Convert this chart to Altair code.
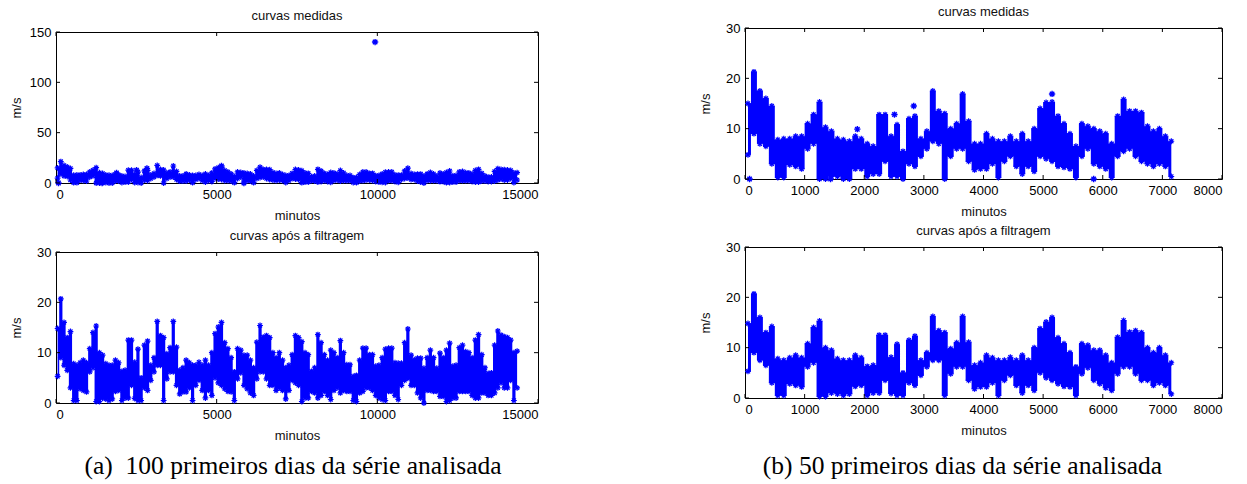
import altair as alt
import pandas as pd

BLUE = "#0000ff"
AXIS_FONT = "Liberation Sans"
CAPTION_FONT = "Liberation Serif"
BUCKET = 100  # minutes summarised by each envelope point

# ---- wind speed envelopes (m/s), one value per 100-minute bucket ----
# first 50 days (0-7200 min), filtered series
filt_hi_a = [14.8, 20.7, 16.0, 13.0, 14.2, 7.8, 7.5, 8.0, 8.5, 8.0,
             10.8, 14.0, 15.3, 10.0, 9.5, 7.8, 7.5, 7.5, 8.5, 8.0,
             6.3, 6.5, 12.5, 12.5, 8.1, 10.7, 5.0, 11.5, 12.3, 7.5,
             9.0, 16.2, 13.4, 13.0, 9.8, 11.0, 16.2, 11.1, 6.5, 7.0,
             8.5, 8.0, 7.5, 7.5, 8.1, 7.5, 8.5, 7.5, 10.0, 13.8,
             15.1, 16.0, 12.0, 10.8, 9.0, 6.2, 10.8, 10.5, 9.5, 9.5,
             8.5, 7.0, 12.1, 15.4, 13.1, 13.4, 13.0, 10.0, 9.0, 10.0,
             8.5, 7.0]
filt_lo_a = [5.3, 9.0, 7.5, 6.5, 3.0, 0.5, 0.5, 2.8, 2.5, 2.2,
             6.2, 7.0, 0.3, 0.3, 1.0, 0.8, 0.5, 0.8, 2.3, 2.5,
             0.5, 1.0, 1.0, 3.5, 0.9, 0.5, 0.5, 3.0, 2.5, 4.5,
             6.2, 7.5, 7.5, 0.5, 4.8, 6.2, 6.2, 3.5, 1.8, 2.2,
             2.2, 3.0, 0.5, 3.5, 4.5, 2.5, 1.0, 2.5, 1.5, 5.0,
             4.0, 3.5, 2.8, 2.3, 2.2, 0.5, 4.8, 6.0, 3.5, 2.8,
             2.0, 1.5, 4.8, 6.2, 6.2, 4.8, 3.5, 3.5, 2.5, 3.0,
             2.5, 0.8]

# days 51-100 (7200-14400 min), filtered series
filt_hi_b = [7.5, 9.6, 13.4, 13.0, 12.2, 10.0, 9.6, 6.3, 7.0, 13.6,
             12.0, 9.6, 8.5, 10.5, 10.0, 9.0, 12.4, 10.0, 7.6, 7.6,
             5.3, 5.5, 8.5, 10.9, 10.9, 9.6, 9.6, 7.3, 7.5, 9.0,
             10.7, 10.9, 10.9, 8.0, 7.9, 7.9, 12.0, 14.7, 9.5, 8.6,
             8.9, 8.9, 6.9, 9.0, 10.5, 9.0, 6.9, 9.9, 9.0, 10.5,
             11.9, 7.3, 7.5, 11.0, 11.5, 10.2, 10.0, 9.0, 12.5, 13.6,
             9.6, 7.0, 5.9, 6.0, 11.5, 14.3, 13.5, 13.2, 13.0, 12.5,
             10.0, 10.3]
filt_lo_b = [2.5, 4.5, 4.0, 3.5, 0.3, 1.0, 1.0, 2.3, 2.0, 1.0,
             1.5, 2.3, 1.5, 0.7, 2.5, 3.0, 2.0, 2.5, 2.3, 2.3,
             0.5, 0.3, 2.0, 2.3, 3.0, 3.0, 2.5, 1.5, 1.0, 0.7,
             0.5, 2.3, 2.3, 1.5, 0.7, 3.5, 4.5, 4.9, 3.5, 3.5,
             2.0, 1.0, 0.0, 2.5, 2.5, 2.3, 2.3, 1.3, 1.3, 0.3,
             0.5, 1.0, 1.0, 2.3, 2.3, 2.3, 2.3, 1.5, 1.0, 1.0,
             2.0, 2.0, 1.5, 1.5, 2.0, 3.0, 4.0, 3.0, 3.0, 4.5,
             0.5, 3.0]

# first 50 days, measured (unfiltered) series
meas_hi_a = [15.0, 21.3, 17.5, 16.0, 14.5, 7.8, 8.0, 8.0, 8.5, 8.5,
             11.0, 12.8, 15.3, 10.3, 9.5, 8.0, 7.8, 7.5, 8.5, 8.0,
             7.0, 6.5, 12.8, 12.8, 8.5, 10.8, 5.5, 12.0, 12.5, 8.0,
             9.5, 17.5, 13.5, 13.0, 10.0, 11.0, 16.9, 11.5, 7.0, 7.0,
             9.0, 8.0, 7.5, 7.5, 8.5, 7.5, 9.0, 7.5, 10.0, 14.0,
             15.2, 15.3, 12.5, 11.0, 9.0, 6.5, 11.0, 10.5, 10.0, 9.5,
             9.0, 7.0, 12.5, 15.8, 13.5, 13.5, 13.2, 10.5, 9.5, 10.0,
             8.5, 7.5]
meas_lo_a = [4.8, 9.0, 7.0, 6.5, 3.0, 0.3, 0.3, 2.8, 2.5, 2.0,
             6.0, 7.0, 0.0, 0.0, 0.5, 0.5, 0.0, 0.0, 2.0, 2.0,
             0.5, 1.0, 1.0, 3.5, 0.5, 0.5, 0.0, 3.0, 2.5, 4.5,
             6.0, 7.5, 7.0, 0.0, 4.5, 6.0, 6.0, 3.5, 1.8, 2.0,
             2.0, 3.0, 0.3, 3.5, 4.5, 2.5, 1.0, 2.5, 1.5, 4.5,
             4.0, 3.5, 2.5, 2.3, 2.0, 0.3, 4.5, 6.0, 3.0, 2.5,
             2.0, 0.3, 4.5, 5.5, 6.0, 4.5, 3.5, 3.0, 2.5, 3.0,
             2.5, 0.5]

# isolated readings of the measured series (minute, m/s)
spike_t = [77, 1435, 1884, 2507, 2830, 5150, 5848]
spike_v = [0.0, 0.0, 9.9, 12.8, 14.5, 16.9, 0.0]
outlier_t = [9930]
outlier_v = [140.0]

# axis ticks
ticks_x_100d = [0, 5000, 10000, 15000]
ticks_x_50d = [0, 1000, 2000, 3000, 4000, 5000, 6000, 7000, 8000]
ticks_y_raw = [0, 50, 100, 150]
ticks_y = [0, 10, 20, 30]

# asterisk marker (unit square path)
STAR = "M-1,0L1,0M0,-1L0,1M-0.7,-0.7L0.7,0.7M-0.7,0.7L0.7,-0.7"


def panel(hi, lo, pts_t, pts_v, x_max, x_ticks, y_max, y_ticks, w, h,
          title, caption=None, caption_dx=0, caption_dy=64):
    n = len(hi)
    t = [BUCKET * i + BUCKET / 2 for i in range(n)]
    env = pd.DataFrame({"t": t, "hi": hi, "lo": lo})
    edge = pd.DataFrame({"t": t + t, "v": list(hi) + list(lo)})
    iso = pd.DataFrame({"t": pts_t, "v": pts_v})

    xs = alt.Scale(domain=[0, x_max], nice=False, zero=True)
    ys = alt.Scale(domain=[0, y_max], nice=False, zero=True)
    x_axis = alt.Axis(values=x_ticks, format="d", title="minutos", grid=False,
                      titleX=w / 2, titleY=32, titleAlign="center", titleBaseline="middle")
    y_axis = alt.Axis(values=y_ticks, format="d", title="m/s", grid=False,
                      titleX=-40, titleY=h / 2, titleAngle=270,
                      titleAlign="center", titleBaseline="middle")

    def X(field):
        return alt.X(field, scale=xs, axis=x_axis)

    def Y(field):
        return alt.Y(field, scale=ys, axis=y_axis)

    band = alt.Chart(env).mark_area(color=BLUE, opacity=1, interpolate="step").encode(
        x=X("t:Q"), y=Y("lo:Q"), y2="hi:Q")
    stars = alt.Chart(edge).mark_point(
        shape=STAR, filled=False, color=BLUE, size=34, strokeWidth=1.2, opacity=1
    ).encode(x=X("t:Q"), y=Y("v:Q"))

    layers = [band, stars]
    if pts_t:
        lone = alt.Chart(iso).mark_point(
            shape=STAR, filled=False, color=BLUE, size=40, strokeWidth=1.4, opacity=1
        ).encode(x=X("t:Q"), y=Y("v:Q"))
        layers.append(lone)

    xt = pd.DataFrame({"t": x_ticks})
    yt = pd.DataFrame({"v": y_ticks})
    tick_style = dict(color="black", strokeWidth=1)
    layers += [
        alt.Chart(xt).mark_rule(**tick_style).encode(
            x=X("t:Q"), y=alt.value(h), y2=alt.value(h - 4)),
        alt.Chart(xt).mark_rule(**tick_style).encode(
            x=X("t:Q"), y=alt.value(0), y2=alt.value(4)),
        alt.Chart(yt).mark_rule(**tick_style).encode(
            y=Y("v:Q"), x=alt.value(0), x2=alt.value(4)),
        alt.Chart(yt).mark_rule(**tick_style).encode(
            y=Y("v:Q"), x=alt.value(w), x2=alt.value(w - 4)),
    ]

    layers.append(alt.Chart(pd.DataFrame({"label": [title]})).mark_text(
        font=AXIS_FONT, fontSize=13, color="#111", baseline="middle", align="center"
    ).encode(text="label:N", x=alt.value(w / 2), y=alt.value(-16)))

    if caption is not None:
        layers.append(alt.Chart(pd.DataFrame({"label": [caption]})).mark_text(
            font=CAPTION_FONT, fontSize=25.5, color="black", baseline="middle", align="center"
        ).encode(text="label:N", x=alt.value(w / 2 + caption_dx), y=alt.value(h + caption_dy)))
    return alt.layer(*layers).properties(width=w, height=h)


WL, WR, H = 482, 477, 151

# 100 days: measured on top, filtered below
meas_100_hi = meas_hi_a + filt_hi_b
meas_100_lo = meas_lo_a + filt_lo_b
filt_100_hi = filt_hi_a + filt_hi_b
filt_100_lo = filt_lo_a + filt_lo_b

lt = panel(meas_100_hi, meas_100_lo, spike_t + outlier_t, spike_v + outlier_v,
           15000, ticks_x_100d, 150, ticks_y_raw, WL, H, "curvas medidas")
lb = panel(filt_100_hi, filt_100_lo, [], [], 15000, ticks_x_100d, 30, ticks_y, WL, H,
           "curvas após a filtragem",
           caption="(a)\u00a0\u00a0100 primeiros dias da série analisada",
           caption_dx=-4, caption_dy=63)

# 50 days: measured on top, filtered below
rt = panel(meas_hi_a, meas_lo_a, spike_t, spike_v, 8000, ticks_x_50d, 30, ticks_y,
           WR, H, "curvas medidas")
rb = panel(filt_hi_a, filt_lo_a, [], [], 8000, ticks_x_50d, 30, ticks_y, WR, H,
           "curvas após a filtragem",
           caption="(b) 50 primeiros dias da série analisada",
           caption_dx=-21, caption_dy=68)

# the 100-day column sits a few pixels lower than the 50-day column
spacer = alt.Chart(pd.DataFrame({"z": [0]})).mark_point(opacity=0).encode(
    x=alt.value(0), y=alt.value(0)
).properties(width=WL, height=4, view=alt.ViewBackground(strokeOpacity=0))

left = alt.vconcat(spacer, alt.vconcat(lt, lb, spacing=69, bounds="flush"),
                   spacing=0, bounds="flush")
right = alt.vconcat(rt, rb, spacing=68, bounds="flush")

chart = alt.hconcat(left, right, spacing=159).properties(
    padding={"left": 9, "top": 5, "right": 5, "bottom": 5}
).configure_view(
    stroke="black", strokeWidth=1
).configure_axis(
    domain=False, ticks=False, grid=False,
    labelFont=AXIS_FONT, labelFontSize=13, labelColor="black", labelPadding=5,
    titleFont=AXIS_FONT, titleFontSize=13, titleColor="#111", titleFontWeight="normal",
)

chart.save("out.html", embed_options={"renderer": "svg", "actions": False})
